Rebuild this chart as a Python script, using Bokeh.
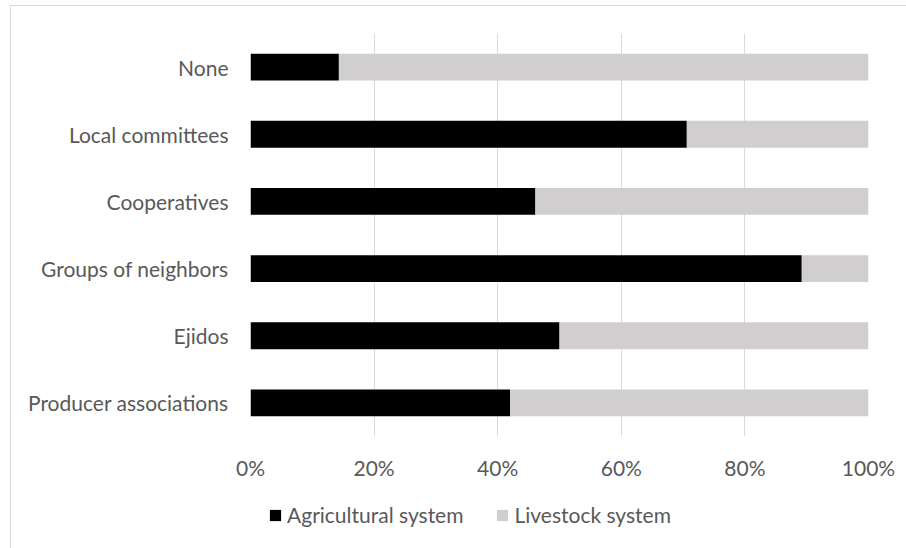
from bokeh.plotting import figure
from bokeh.layouts import column
from bokeh.models import Range1d, FixedTicker, NumeralTickFormatter, Legend, LegendItem, ColumnDataSource
from bokeh.embed import file_html
from bokeh.resources import INLINE

categories = ["Producer associations", "Ejidos", "Groups of neighbors", "Cooperatives", "Local committees", "None"]
agricultural = [0.420, 0.500, 0.892, 0.461, 0.706, 0.143]
livestock = [1 - a for a in agricultural]
x_ticks = [0, 0.2, 0.4, 0.6, 0.8, 1.0]
series_names = ["Agricultural system", "Livestock system"]
series_colors = ["#000000", "#d0cece"]

FONT = "Lato"
TXT = "#595959"

src = ColumnDataSource(dict(cat=categories, agr=agricultural, liv=livestock))

p = figure(width=896, height=485, y_range=categories, x_range=Range1d(0, 1),
           output_backend="svg", toolbar_location=None,
           min_border_left=239, min_border_right=39, min_border_top=27, min_border_bottom=55)
p.outline_line_color = None
p.background_fill_color = "white"
p.border_fill_color = "white"

r = p.hbar_stack(["agr", "liv"], y="cat", height=0.4, source=src,
                 color=series_colors, line_color=None)

p.xgrid.ticker = FixedTicker(ticks=x_ticks)
p.xgrid.grid_line_color = "#d9d9d9"
p.xgrid.grid_line_width = 1
p.ygrid.grid_line_color = None

p.xaxis.ticker = FixedTicker(ticks=x_ticks)
p.xaxis.formatter = NumeralTickFormatter(format="0%")
for ax in (p.xaxis, p.yaxis):
    ax.axis_line_color = None
    ax.major_tick_line_color = None
    ax.minor_tick_line_color = None
    ax.major_tick_out = 0
    ax.major_tick_in = 0
    ax.minor_tick_out = 0
    ax.major_label_text_font = FONT
    ax.major_label_text_font_size = "21px"
    ax.major_label_text_color = TXT
p.xaxis.major_label_standoff = 18
p.yaxis.major_label_standoff = 22

# legend strip: a separate figure so the legend is not clipped by the main frame.
# Its bars use the same data with zero thickness, so only the legend shows.
lf = figure(width=896, height=58, x_range=Range1d(0, 1), y_range=categories,
            output_backend="svg", toolbar_location=None,
            min_border_left=0, min_border_right=0, min_border_top=0, min_border_bottom=0)
lf.axis.visible = False
lf.grid.visible = False
lf.outline_line_color = None
lf.border_fill_color = "white"
lr = lf.hbar_stack(["agr", "liv"], y="cat", height=0, source=src,
                   color=series_colors, line_color=None)

legend = Legend(items=[LegendItem(label=series_names[i], renderers=[lr[i]]) for i in range(2)],
                orientation="horizontal", location=(18, 22),
                glyph_width=14, glyph_height=14, label_standoff=5, spacing=32,
                padding=0, margin=0, border_line_color=None, background_fill_alpha=0,
                label_text_font=FONT, label_text_font_size="21px", label_text_color=TXT)
lf.add_layout(legend, "center")

layout = column(p, lf, spacing=0, margin=(5, 0, 0, 10),
                styles={"border-top": "1px solid #d9d9d9", "border-left": "1px solid #d9d9d9"})

open("out.html", "w").write(file_html(layout, INLINE))
